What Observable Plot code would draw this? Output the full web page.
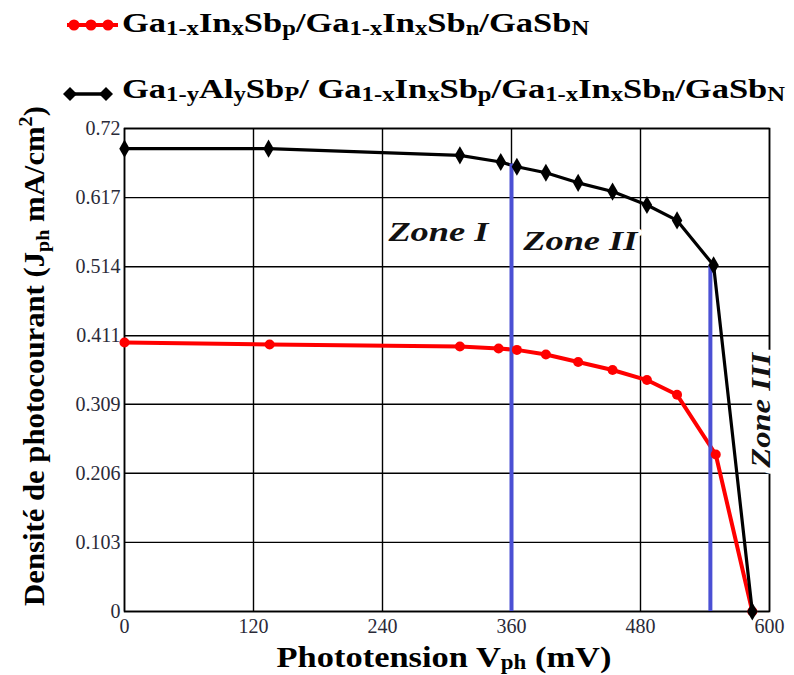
<!DOCTYPE html>
<html><head><meta charset="utf-8">
<script src="https://cdn.jsdelivr.net/npm/d3@7"></script>
<script src="https://cdn.jsdelivr.net/npm/@observablehq/plot@0.6"></script>
<style>
body{margin:0;background:#fff;font-family:"Liberation Serif","DejaVu Serif",serif;}
#wrap{position:relative;width:794px;height:675px;overflow:hidden;}
</style></head><body>
<div id="wrap"></div>
<script>
// ---- data ----
const vRed   = [0, 135, 312, 348, 365, 392, 422, 454, 486, 514, 550, 584];
const jRed   = [0.401, 0.398, 0.395, 0.392, 0.390, 0.383, 0.372, 0.360, 0.345, 0.323, 0.234, 0];
const vBlack = [0, 134, 312, 350, 365, 392, 422, 454, 486, 514, 548, 584];
const jBlack = [0.690, 0.690, 0.680, 0.670, 0.663, 0.654, 0.639, 0.626, 0.606, 0.583, 0.516, 0];
const zoneBoundV = [360, 545];
const zoneBoundTop = [0.667, 0.516];
const zoneNames = ["Zone I", "Zone II", "Zone III"];
const zoneLabelV = [292, 424, 592];
const zoneLabelJ = [0.566, 0.552, 0.30];
const xTicks = [0, 120, 240, 360, 480, 600];
const yTicks = [0, 0.103, 0.206, 0.309, 0.411, 0.514, 0.617, 0.72];

const red = vRed.map((v, i) => ({v, j: jRed[i]}));
const black = vBlack.map((v, i) => ({v, j: jBlack[i]}));
const bounds = zoneBoundV.map((v, i) => ({v, top: zoneBoundTop[i]}));
const zones = zoneNames.map((name, i) => ({name, v: zoneLabelV[i], j: zoneLabelJ[i]}));

const FONT = "'Liberation Serif', 'DejaVu Serif', serif";
const blue = "#4b50d4";
const chart = Plot.plot({
  width: 794, height: 675,
  marginTop: 128, marginBottom: 64, marginLeft: 124, marginRight: 25,
  style: {fontFamily: FONT, fontSize: "20px", background: "transparent", color: "#2a2a38"},
  x: {domain: [0, 600], label: null},
  y: {domain: [0, 0.72], label: null},
  marks: [
    Plot.gridX(xTicks, {stroke: "#000", strokeOpacity: 1, strokeWidth: 1.4}),
    Plot.gridY(yTicks, {stroke: "#000", strokeOpacity: 1, strokeWidth: 1.4}),
    Plot.frame({stroke: "#000", strokeWidth: 1.6}),
    Plot.text(zones.slice(0, 2), {x: "v", y: "j", text: "name", fontSize: 28, fontWeight: "bold", fontStyle: "italic", fill: "#111", stroke: "white", strokeWidth: 6}),
    Plot.text(zones.slice(2), {x: "v", y: "j", text: "name", rotate: -90, fontSize: 28, fontWeight: "bold", fontStyle: "italic", fill: "#111", stroke: "white", strokeWidth: 10}),
    Plot.line(red, {x: "v", y: "j", stroke: "#ff0000", strokeWidth: 4}),
    Plot.line(black, {x: "v", y: "j", stroke: "#000", strokeWidth: 3.2}),
    Plot.ruleX(bounds, {x: "v", y1: 0, y2: "top", stroke: blue, strokeWidth: 4}),
    Plot.dot(red, {x: "v", y: "j", r: 5, fill: "#ff0000"}),
    Plot.dot(black, {x: "v", y: "j", r: 5.5, symbol: "diamond", fill: "#000"}),
    Plot.axisX(xTicks, {tickSize: 0, tickPadding: 7, label: null, fontSize: 20}),
    Plot.axisY(yTicks, {tickSize: 0, tickPadding: 4, label: null, fontSize: 20, tickFormat: d => String(d)})
  ]
});
document.getElementById("wrap").appendChild(chart);
const svg = d3.select(chart);

// stretch zone labels to the reference widths
const zoneLen = {"Zone I": 100, "Zone II": 114, "Zone III": 115};
svg.selectAll("text").each(function() {
  const t = this.textContent;
  if (zoneLen[t] && this.childElementCount === 0) {
    d3.select(this).attr("textLength", zoneLen[t]).attr("lengthAdjust", "spacingAndGlyphs");
  }
});

function fitTransform(sel, base, target) {
  const w = sel.node().getBBox().width;
  sel.attr("transform", `${base} scale(${target / w},1)`);
}

// axis titles with subscripts
const yl = svg.append("text")
  .attr("text-anchor", "middle").attr("font-family", FONT)
  .attr("font-weight", "bold").attr("font-size", 29).attr("fill", "#000");
yl.append("tspan").text("Densité de photocourant (J");
yl.append("tspan").attr("font-size", 19).attr("dy", 5).text("ph");
yl.append("tspan").attr("dy", -5).text(" mA/cm");
yl.append("tspan").attr("font-size", 19).attr("dy", -12).text("2");
yl.append("tspan").attr("dy", 12).text(")");
fitTransform(yl, "translate(44,356) rotate(-90)", 500);

const xl = svg.append("text")
  .attr("text-anchor", "middle").attr("font-family", FONT)
  .attr("font-weight", "bold").attr("font-size", 30).attr("fill", "#000");
xl.append("tspan").text("Phototension V");
xl.append("tspan").attr("font-size", 20).attr("dy", 2).text("ph");
xl.append("tspan").attr("dy", -2).text(" (mV)");
fitTransform(xl, "translate(444,667)", 335);

// legend
function legendText(parts, x, y, target) {
  const t = svg.append("text").attr("font-family", FONT).attr("text-anchor", "start")
    .attr("font-weight", "bold").attr("font-size", 28).attr("fill", "#000");
  let sub = false;
  parts.forEach(([s, isSub]) => {
    const sp = t.append("tspan").text(s);
    if (isSub) sp.attr("font-size", 20);
    if (isSub !== !!sub) sp.attr("dy", isSub ? 3 : -3);
    sub = isSub;
  });
  fitTransform(t, `translate(${x},${y})`, target);
}
const L1 = [["Ga",0],["1-x",1],["In",0],["x",1],["Sb",0],["p",1],["/Ga",0],["1-x",1],["In",0],["x",1],["Sb",0],["n",1],["/GaSb",0],["N",1]];
const L2 = [["Ga",0],["1-y",1],["Al",0],["y",1],["Sb",0],["P",1],["/ Ga",0],["1-x",1],["In",0],["x",1],["Sb",0],["p",1],["/Ga",0],["1-x",1],["In",0],["x",1],["Sb",0],["n",1],["/GaSb",0],["N",1]];
legendText(L1, 122, 35, 468);
legendText(L2, 122, 101, 664);

// legend swatches
const g = svg.append("g");
g.append("line").attr("x1", 67).attr("x2", 118).attr("y1", 25).attr("y2", 25).attr("stroke", "#ff0000").attr("stroke-width", 4);
[74, 91, 108].forEach(cx => g.append("circle").attr("cx", cx).attr("cy", 25).attr("r", 5.5).attr("fill", "#ff0000"));
g.append("line").attr("x1", 68).attr("x2", 107).attr("y1", 94).attr("y2", 94).attr("stroke", "#000").attr("stroke-width", 3.5);
[70, 106].forEach(cx => g.append("path").attr("d", `M${cx},87 L${cx + 7},94 L${cx},101 L${cx - 7},94Z`).attr("fill", "#000"));
</script>
</body></html>
